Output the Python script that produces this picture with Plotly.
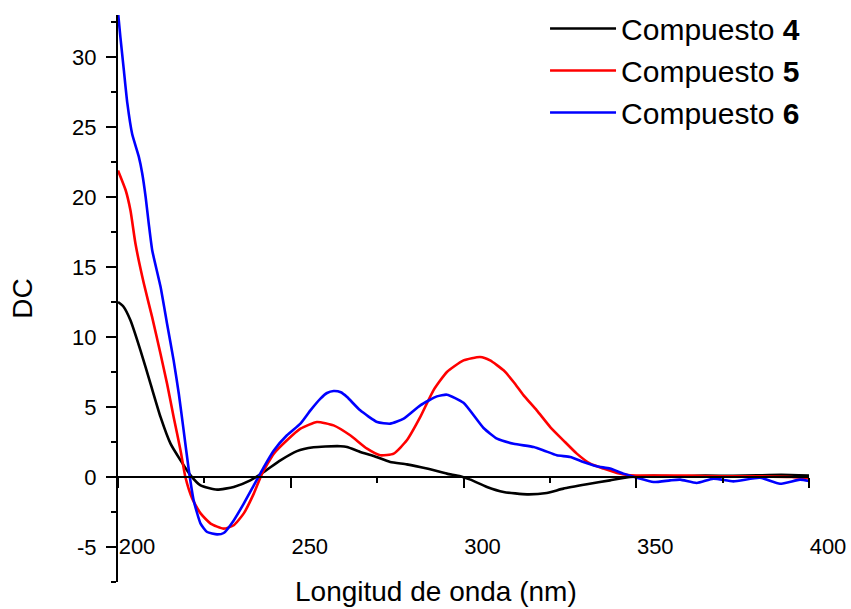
import plotly.graph_objects as go

# ---- data ----
x4 = [200, 201.5, 203.6, 206.5, 209.4, 212.3, 215.2, 218.1, 221, 223.9, 228.7, 233.5, 238.3, 242.2,
      247, 251.8, 256.6, 260, 264.4, 266.3, 270.1, 274, 278.8, 283.6, 289.4, 295.2, 299.1, 302,
      306.8, 311.6, 318.4, 324.1, 328.9, 335.7, 342.4, 348.2, 355, 362, 370, 378, 385, 392, 400]
y4 = [12.5, 12.2, 11.2, 9.05, 6.67, 4.29, 2.38, 1.19, 0.12, -0.6, -0.9, -0.71, -0.24, 0.36,
      1.19, 1.85, 2.12, 2.18, 2.2, 2.14, 1.79, 1.5, 1.07, 0.9, 0.6, 0.24, 0.05, -0.19,
      -0.71, -1.07, -1.24, -1.14, -0.83, -0.52, -0.24, 0.0, 0.08, 0.05, 0.1, 0.08, 0.12, 0.15, 0.1]

x5 = [200, 202.2, 203.6, 205.1, 207.5, 209.9, 212.3, 214.2, 216.1, 218.1, 219.5, 221.5, 223.9,
      226.8, 230.6, 233.5, 236.4, 239.3, 241.7, 245.1, 248.9, 252.8, 257.6, 262.4, 267.2, 272.1,
      275.9, 279.8, 283.6, 287.5, 291.3, 295.2, 300, 304.8, 307.7, 311.6, 314.5, 317.4, 321.2,
      325.1, 328.9, 332.8, 336.7, 340.5, 344.4, 348.2, 355, 365, 375, 385, 395, 400]
y5 = [21.9, 20.5, 19.05, 16.6, 13.8, 11.4, 8.8, 6.67, 4.29, 1.9, 0.0, -1.55, -2.6,
      -3.33, -3.69, -3.45, -2.6, -1.19, 0.24, 1.67, 2.62, 3.45, 3.93, 3.69, 2.98, 2.02,
      1.55, 1.67, 2.62, 4.29, 6.19, 7.5, 8.33, 8.57, 8.33, 7.62, 6.79, 5.83, 4.76,
      3.57, 2.62, 1.67, 0.95, 0.6, 0.29, 0.12, 0.1, 0.1, 0.05, 0.05, 0.0, -0.1]

x6 = [200, 200.7, 201.7, 202.7, 204.1, 206, 207, 208, 208.9, 209.9, 212.3, 214.2, 216.1, 217.6,
      219, 220.5, 221.9, 223.9, 225.8, 228.7, 230.6, 233.5, 236.4, 239.3, 242.2, 245.1, 248.9,
      252.8, 255.7, 258.6, 260.5, 262.4, 264.5, 266.3, 270.1, 275, 278.8, 282.7, 287.5, 292.3,
      295.2, 300, 305.8, 309.7, 314.5, 320.3, 323.2, 327, 330.9, 334.7, 338.6, 342.4, 346.3,
      350.2, 355, 359.8, 362.7, 367.5, 372.3, 378.1, 385.8, 391.6, 397.4, 400]
y6 = [33.2, 31.4, 29.05, 26.7, 24.5, 22.9, 21.7, 20.0, 18.1, 16.2, 13.6, 10.95, 8.33, 5.95,
      3.33, 0.48, -1.67, -3.33, -3.93, -4.1, -4.0, -3.1, -1.9, -0.6, 0.71, 1.9, 2.98,
      3.81, 4.76, 5.6, 6.0, 6.14, 6.05, 5.71, 4.76, 3.93, 3.81, 4.17, 5.12, 5.76,
      5.88, 5.3, 3.5, 2.74, 2.38, 2.14, 1.9, 1.55, 1.43, 1.07, 0.76, 0.6, 0.24,
      -0.05, -0.36, -0.24, -0.19, -0.43, -0.12, -0.31, -0.05, -0.48, -0.19, -0.29]

names = ["Compuesto <b>4</b>", "Compuesto <b>5</b>", "Compuesto <b>6</b>"]
colors = ["#000000", "#ff0000", "#0000ff"]

x_tickvals = [200, 250, 300, 350, 400]
x_ticktext = ["200", "250", "300", "350", "400"]
y_tickvals = [-5, 0, 5, 10, 15, 20, 25, 30]
y_ticktext = ["-5", "0", "5", "10", "15", "20", "25", "30"]

x_range = [200, 400]
y_range = [-7.5, 33]

FONT = "Arial, Liberation Sans, sans-serif"

fig = go.Figure()
for xs, ys, nm, c in zip([x4, x5, x6], [y4, y5, y6], names, colors):
    fig.add_trace(go.Scatter(x=xs, y=ys, mode="lines", name=nm,
                             line=dict(color=c, width=2.6, shape="spline", smoothing=0.5)))

zero_pos = (0 - y_range[0]) / (y_range[1] - y_range[0])

fig.update_layout(
    width=851, height=609,
    margin=dict(l=117.5, r=42, t=15, b=27.3, autoexpand=False),
    paper_bgcolor="white", plot_bgcolor="white",
    font=dict(family=FONT, color="black"),
    showlegend=True,
    legend=dict(x=0.618, y=1.022, xanchor="left", yanchor="top",
                font=dict(size=30, family=FONT), itemwidth=66,
                bgcolor="rgba(0,0,0,0)", tracegroupgap=0),
    xaxis=dict(range=x_range, anchor="free", position=zero_pos, automargin=False,
               showline=True, linecolor="black", linewidth=2.2,
               showgrid=False, zeroline=False,
               tickmode="array", tickvals=x_tickvals, ticktext=x_ticktext,
               ticks="outside", ticklen=10, tickwidth=2, tickcolor="black",
               minor=dict(dtick=25, tick0=200, ticks="outside", ticklen=5, tickwidth=2, tickcolor="black", showgrid=False),
               tickfont=dict(size=22, family=FONT),
               ticklabelstandoff=39, ticklabelshift=19),
    yaxis=dict(range=y_range, showline=True, linecolor="black", linewidth=2.2, automargin=False,
               showgrid=False, zeroline=False,
               tickmode="array", tickvals=y_tickvals, ticktext=y_ticktext,
               ticks="outside", ticklen=10, tickwidth=2, tickcolor="black",
               minor=dict(dtick=2.5, tick0=0, ticks="outside", ticklen=5, tickwidth=2, tickcolor="black", showgrid=False),
               tickfont=dict(size=22, family=FONT), ticklabelstandoff=5,
               title=dict(text="DC", font=dict(size=28, family=FONT), standoff=31)),
    annotations=[dict(text="Longitud de onda (nm)", xref="paper", yref="paper",
                      x=(436 - 117.5) / 691.5, y=-0.016, xanchor="center", yanchor="middle",
                      showarrow=False, font=dict(size=28, family=FONT))],
)

fig.write_html("out.html")
